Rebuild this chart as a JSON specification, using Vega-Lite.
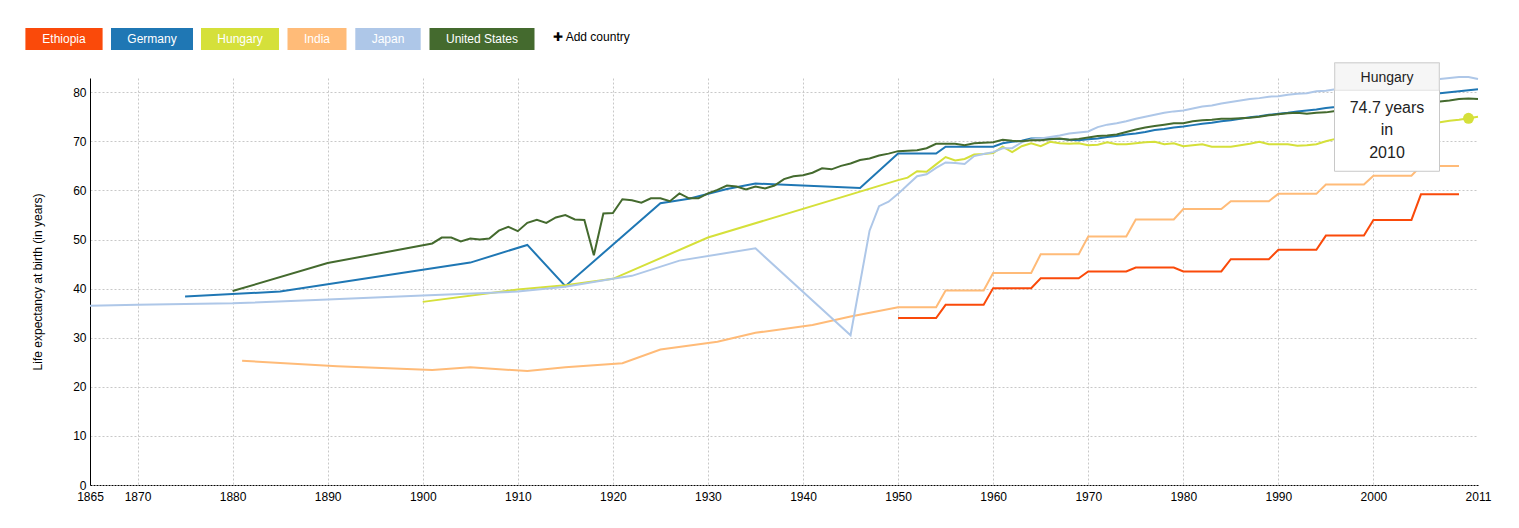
{
  "$schema": "https://vega.github.io/schema/vega-lite/v6.json",
  "width": 1388,
  "height": 407,
  "autosize": {"type": "none"},
  "padding": {"left": 90, "top": 78, "right": 41, "bottom": 43},
  "background": "#ffffff",
  "config": {"view": {"stroke": null}, "font": "Liberation Sans"},
  "data": {"values": [
    {"country":"Ethiopia","year":1950,"life":34.0},{"country":"Ethiopia","year":1951,"life":34.0},{"country":"Ethiopia","year":1952,"life":34.0},{"country":"Ethiopia","year":1953,"life":34.0},{"country":"Ethiopia","year":1954,"life":34.0},
    {"country":"Ethiopia","year":1955,"life":36.7},{"country":"Ethiopia","year":1956,"life":36.7},{"country":"Ethiopia","year":1957,"life":36.7},{"country":"Ethiopia","year":1958,"life":36.7},{"country":"Ethiopia","year":1959,"life":36.7},
    {"country":"Ethiopia","year":1960,"life":40.1},{"country":"Ethiopia","year":1961,"life":40.1},{"country":"Ethiopia","year":1962,"life":40.1},{"country":"Ethiopia","year":1963,"life":40.1},{"country":"Ethiopia","year":1964,"life":40.1},
    {"country":"Ethiopia","year":1965,"life":42.1},{"country":"Ethiopia","year":1966,"life":42.1},{"country":"Ethiopia","year":1967,"life":42.1},{"country":"Ethiopia","year":1968,"life":42.1},{"country":"Ethiopia","year":1969,"life":42.1},
    {"country":"Ethiopia","year":1970,"life":43.5},{"country":"Ethiopia","year":1971,"life":43.5},{"country":"Ethiopia","year":1972,"life":43.5},{"country":"Ethiopia","year":1973,"life":43.5},{"country":"Ethiopia","year":1974,"life":43.5},
    {"country":"Ethiopia","year":1975,"life":44.3},{"country":"Ethiopia","year":1976,"life":44.3},{"country":"Ethiopia","year":1977,"life":44.3},{"country":"Ethiopia","year":1978,"life":44.3},{"country":"Ethiopia","year":1979,"life":44.3},
    {"country":"Ethiopia","year":1980,"life":43.5},{"country":"Ethiopia","year":1981,"life":43.5},{"country":"Ethiopia","year":1982,"life":43.5},{"country":"Ethiopia","year":1983,"life":43.5},{"country":"Ethiopia","year":1984,"life":43.5},
    {"country":"Ethiopia","year":1985,"life":46.0},{"country":"Ethiopia","year":1986,"life":46.0},{"country":"Ethiopia","year":1987,"life":46.0},{"country":"Ethiopia","year":1988,"life":46.0},{"country":"Ethiopia","year":1989,"life":46.0},
    {"country":"Ethiopia","year":1990,"life":47.9},{"country":"Ethiopia","year":1991,"life":47.9},{"country":"Ethiopia","year":1992,"life":47.9},{"country":"Ethiopia","year":1993,"life":47.9},{"country":"Ethiopia","year":1994,"life":47.9},
    {"country":"Ethiopia","year":1995,"life":50.8},{"country":"Ethiopia","year":1996,"life":50.8},{"country":"Ethiopia","year":1997,"life":50.8},{"country":"Ethiopia","year":1998,"life":50.8},{"country":"Ethiopia","year":1999,"life":50.8},
    {"country":"Ethiopia","year":2000,"life":54.0},{"country":"Ethiopia","year":2001,"life":54.0},{"country":"Ethiopia","year":2002,"life":54.0},{"country":"Ethiopia","year":2003,"life":54.0},{"country":"Ethiopia","year":2004,"life":54.0},
    {"country":"Ethiopia","year":2005,"life":59.2},{"country":"Ethiopia","year":2006,"life":59.2},{"country":"Ethiopia","year":2007,"life":59.2},{"country":"Ethiopia","year":2008,"life":59.2},{"country":"Ethiopia","year":2009,"life":59.2},

    {"country":"Germany","year":1875,"life":38.4},{"country":"Germany","year":1885,"life":39.4},{"country":"Germany","year":1905,"life":45.3},{"country":"Germany","year":1911,"life":48.9},{"country":"Germany","year":1915,"life":40.5},
    {"country":"Germany","year":1925,"life":57.4},{"country":"Germany","year":1928,"life":58.3},{"country":"Germany","year":1932,"life":60.3},{"country":"Germany","year":1935,"life":61.4},{"country":"Germany","year":1946,"life":60.5},
    {"country":"Germany","year":1950,"life":67.5},{"country":"Germany","year":1951,"life":67.5},{"country":"Germany","year":1952,"life":67.5},{"country":"Germany","year":1953,"life":67.5},{"country":"Germany","year":1954,"life":67.5},
    {"country":"Germany","year":1955,"life":68.9},{"country":"Germany","year":1956,"life":68.9},{"country":"Germany","year":1957,"life":68.9},{"country":"Germany","year":1958,"life":68.9},{"country":"Germany","year":1959,"life":68.9},
    {"country":"Germany","year":1960,"life":68.9},{"country":"Germany","year":1961,"life":69.6},{"country":"Germany","year":1962,"life":69.9},{"country":"Germany","year":1963,"life":70.1},{"country":"Germany","year":1964,"life":70.6},
    {"country":"Germany","year":1965,"life":70.6},{"country":"Germany","year":1966,"life":70.6},{"country":"Germany","year":1967,"life":70.5},{"country":"Germany","year":1968,"life":70.3},{"country":"Germany","year":1969,"life":70.2},
    {"country":"Germany","year":1970,"life":70.4},{"country":"Germany","year":1971,"life":70.6},{"country":"Germany","year":1972,"life":70.9},{"country":"Germany","year":1973,"life":71.1},{"country":"Germany","year":1974,"life":71.4},
    {"country":"Germany","year":1975,"life":71.6},{"country":"Germany","year":1976,"life":71.9},{"country":"Germany","year":1977,"life":72.3},{"country":"Germany","year":1978,"life":72.5},{"country":"Germany","year":1979,"life":72.8},
    {"country":"Germany","year":1980,"life":73.0},{"country":"Germany","year":1981,"life":73.3},{"country":"Germany","year":1982,"life":73.6},{"country":"Germany","year":1983,"life":73.8},{"country":"Germany","year":1984,"life":74.1},
    {"country":"Germany","year":1985,"life":74.3},{"country":"Germany","year":1986,"life":74.6},{"country":"Germany","year":1987,"life":74.9},{"country":"Germany","year":1988,"life":75.1},{"country":"Germany","year":1989,"life":75.4},
    {"country":"Germany","year":1990,"life":75.6},{"country":"Germany","year":1991,"life":75.8},{"country":"Germany","year":1992,"life":76.1},{"country":"Germany","year":1993,"life":76.3},{"country":"Germany","year":1994,"life":76.5},
    {"country":"Germany","year":1995,"life":76.8},{"country":"Germany","year":1996,"life":77.0},{"country":"Germany","year":1997,"life":77.3},{"country":"Germany","year":1998,"life":77.6},{"country":"Germany","year":1999,"life":77.9},
    {"country":"Germany","year":2000,"life":78.2},{"country":"Germany","year":2001,"life":78.5},{"country":"Germany","year":2002,"life":78.7},{"country":"Germany","year":2003,"life":78.9},{"country":"Germany","year":2004,"life":79.2},
    {"country":"Germany","year":2005,"life":79.4},{"country":"Germany","year":2006,"life":79.6},{"country":"Germany","year":2007,"life":79.8},{"country":"Germany","year":2008,"life":80.0},{"country":"Germany","year":2009,"life":80.2},
    {"country":"Germany","year":2010,"life":80.4},{"country":"Germany","year":2011,"life":80.6},

    {"country":"Hungary","year":1900,"life":37.3},{"country":"Hungary","year":1910,"life":39.8},{"country":"Hungary","year":1915,"life":40.7},{"country":"Hungary","year":1920,"life":42.0},{"country":"Hungary","year":1930,"life":50.4},
    {"country":"Hungary","year":1950,"life":62.1},{"country":"Hungary","year":1951,"life":62.6},{"country":"Hungary","year":1952,"life":63.9},{"country":"Hungary","year":1953,"life":63.8},{"country":"Hungary","year":1954,"life":65.3},
    {"country":"Hungary","year":1955,"life":66.8},{"country":"Hungary","year":1956,"life":66.1},{"country":"Hungary","year":1957,"life":66.4},{"country":"Hungary","year":1958,"life":67.3},{"country":"Hungary","year":1959,"life":67.4},
    {"country":"Hungary","year":1960,"life":67.6},{"country":"Hungary","year":1961,"life":68.9},{"country":"Hungary","year":1962,"life":67.8},{"country":"Hungary","year":1963,"life":69.0},{"country":"Hungary","year":1964,"life":69.6},
    {"country":"Hungary","year":1965,"life":69.0},{"country":"Hungary","year":1966,"life":69.9},{"country":"Hungary","year":1967,"life":69.6},{"country":"Hungary","year":1968,"life":69.5},{"country":"Hungary","year":1969,"life":69.6},
    {"country":"Hungary","year":1970,"life":69.2},{"country":"Hungary","year":1971,"life":69.3},{"country":"Hungary","year":1972,"life":69.8},{"country":"Hungary","year":1973,"life":69.4},{"country":"Hungary","year":1974,"life":69.4},
    {"country":"Hungary","year":1975,"life":69.6},{"country":"Hungary","year":1976,"life":69.8},{"country":"Hungary","year":1977,"life":69.9},{"country":"Hungary","year":1978,"life":69.4},{"country":"Hungary","year":1979,"life":69.6},
    {"country":"Hungary","year":1980,"life":69.0},{"country":"Hungary","year":1981,"life":69.2},{"country":"Hungary","year":1982,"life":69.4},{"country":"Hungary","year":1983,"life":68.9},{"country":"Hungary","year":1984,"life":68.9},
    {"country":"Hungary","year":1985,"life":68.9},{"country":"Hungary","year":1986,"life":69.2},{"country":"Hungary","year":1987,"life":69.5},{"country":"Hungary","year":1988,"life":69.9},{"country":"Hungary","year":1989,"life":69.4},
    {"country":"Hungary","year":1990,"life":69.4},{"country":"Hungary","year":1991,"life":69.4},{"country":"Hungary","year":1992,"life":69.1},{"country":"Hungary","year":1993,"life":69.2},{"country":"Hungary","year":1994,"life":69.4},
    {"country":"Hungary","year":1995,"life":70.0},{"country":"Hungary","year":1996,"life":70.5},{"country":"Hungary","year":1997,"life":70.8},{"country":"Hungary","year":1998,"life":71.0},{"country":"Hungary","year":1999,"life":71.2},
    {"country":"Hungary","year":2000,"life":71.5},{"country":"Hungary","year":2001,"life":72.2},{"country":"Hungary","year":2002,"life":72.5},{"country":"Hungary","year":2003,"life":72.7},{"country":"Hungary","year":2004,"life":73.0},
    {"country":"Hungary","year":2005,"life":73.1},{"country":"Hungary","year":2006,"life":73.5},{"country":"Hungary","year":2007,"life":73.9},{"country":"Hungary","year":2008,"life":74.2},{"country":"Hungary","year":2009,"life":74.4},
    {"country":"Hungary","year":2010,"life":74.7},{"country":"Hungary","year":2011,"life":75.0},

    {"country":"India","year":1881,"life":25.3},{"country":"India","year":1891,"life":24.2},{"country":"India","year":1901,"life":23.4},{"country":"India","year":1905,"life":24.0},{"country":"India","year":1911,"life":23.2},
    {"country":"India","year":1915,"life":24.0},{"country":"India","year":1921,"life":24.8},{"country":"India","year":1925,"life":27.6},{"country":"India","year":1931,"life":29.2},{"country":"India","year":1935,"life":31.0},
    {"country":"India","year":1941,"life":32.6},{"country":"India","year":1945,"life":34.3},
    {"country":"India","year":1950,"life":36.2},{"country":"India","year":1951,"life":36.2},{"country":"India","year":1952,"life":36.2},{"country":"India","year":1953,"life":36.2},{"country":"India","year":1954,"life":36.2},
    {"country":"India","year":1955,"life":39.6},{"country":"India","year":1956,"life":39.6},{"country":"India","year":1957,"life":39.6},{"country":"India","year":1958,"life":39.6},{"country":"India","year":1959,"life":39.6},
    {"country":"India","year":1960,"life":43.2},{"country":"India","year":1961,"life":43.2},{"country":"India","year":1962,"life":43.2},{"country":"India","year":1963,"life":43.2},{"country":"India","year":1964,"life":43.2},
    {"country":"India","year":1965,"life":47.0},{"country":"India","year":1966,"life":47.0},{"country":"India","year":1967,"life":47.0},{"country":"India","year":1968,"life":47.0},{"country":"India","year":1969,"life":47.0},
    {"country":"India","year":1970,"life":50.6},{"country":"India","year":1971,"life":50.6},{"country":"India","year":1972,"life":50.6},{"country":"India","year":1973,"life":50.6},{"country":"India","year":1974,"life":50.6},
    {"country":"India","year":1975,"life":54.1},{"country":"India","year":1976,"life":54.1},{"country":"India","year":1977,"life":54.1},{"country":"India","year":1978,"life":54.1},{"country":"India","year":1979,"life":54.1},
    {"country":"India","year":1980,"life":56.2},{"country":"India","year":1981,"life":56.2},{"country":"India","year":1982,"life":56.2},{"country":"India","year":1983,"life":56.2},{"country":"India","year":1984,"life":56.2},
    {"country":"India","year":1985,"life":57.8},{"country":"India","year":1986,"life":57.8},{"country":"India","year":1987,"life":57.8},{"country":"India","year":1988,"life":57.8},{"country":"India","year":1989,"life":57.8},
    {"country":"India","year":1990,"life":59.3},{"country":"India","year":1991,"life":59.3},{"country":"India","year":1992,"life":59.3},{"country":"India","year":1993,"life":59.3},{"country":"India","year":1994,"life":59.3},
    {"country":"India","year":1995,"life":61.2},{"country":"India","year":1996,"life":61.2},{"country":"India","year":1997,"life":61.2},{"country":"India","year":1998,"life":61.2},{"country":"India","year":1999,"life":61.2},
    {"country":"India","year":2000,"life":63.0},{"country":"India","year":2001,"life":63.0},{"country":"India","year":2002,"life":63.0},{"country":"India","year":2003,"life":63.0},{"country":"India","year":2004,"life":63.0},
    {"country":"India","year":2005,"life":65.0},{"country":"India","year":2006,"life":65.0},{"country":"India","year":2007,"life":65.0},{"country":"India","year":2008,"life":65.0},{"country":"India","year":2009,"life":65.0},

    {"country":"Japan","year":1865,"life":36.5},{"country":"Japan","year":1870,"life":36.7},{"country":"Japan","year":1880,"life":37.0},{"country":"Japan","year":1890,"life":37.8},{"country":"Japan","year":1900,"life":38.6},
    {"country":"Japan","year":1910,"life":39.4},{"country":"Japan","year":1915,"life":40.4},{"country":"Japan","year":1920,"life":42.0},{"country":"Japan","year":1922,"life":42.6},{"country":"Japan","year":1927,"life":45.7},
    {"country":"Japan","year":1935,"life":48.2},{"country":"Japan","year":1945,"life":30.5},{"country":"Japan","year":1947,"life":51.8},{"country":"Japan","year":1948,"life":56.8},{"country":"Japan","year":1949,"life":57.7},
    {"country":"Japan","year":1950,"life":59.3},{"country":"Japan","year":1951,"life":61.1},{"country":"Japan","year":1952,"life":62.9},{"country":"Japan","year":1953,"life":63.3},{"country":"Japan","year":1954,"life":64.6},
    {"country":"Japan","year":1955,"life":65.7},{"country":"Japan","year":1956,"life":65.6},{"country":"Japan","year":1957,"life":65.4},{"country":"Japan","year":1958,"life":67.0},{"country":"Japan","year":1959,"life":67.4},
    {"country":"Japan","year":1960,"life":67.8},{"country":"Japan","year":1961,"life":68.6},{"country":"Japan","year":1962,"life":68.6},{"country":"Japan","year":1963,"life":69.8},{"country":"Japan","year":1964,"life":70.4},
    {"country":"Japan","year":1965,"life":70.6},{"country":"Japan","year":1966,"life":70.9},{"country":"Japan","year":1967,"life":71.2},{"country":"Japan","year":1968,"life":71.6},{"country":"Japan","year":1969,"life":71.8},
    {"country":"Japan","year":1970,"life":72.0},{"country":"Japan","year":1971,"life":72.9},{"country":"Japan","year":1972,"life":73.4},{"country":"Japan","year":1973,"life":73.7},{"country":"Japan","year":1974,"life":74.1},
    {"country":"Japan","year":1975,"life":74.6},{"country":"Japan","year":1976,"life":75.0},{"country":"Japan","year":1977,"life":75.4},{"country":"Japan","year":1978,"life":75.8},{"country":"Japan","year":1979,"life":76.1},
    {"country":"Japan","year":1980,"life":76.3},{"country":"Japan","year":1981,"life":76.7},{"country":"Japan","year":1982,"life":77.1},{"country":"Japan","year":1983,"life":77.3},{"country":"Japan","year":1984,"life":77.7},
    {"country":"Japan","year":1985,"life":78.0},{"country":"Japan","year":1986,"life":78.3},{"country":"Japan","year":1987,"life":78.6},{"country":"Japan","year":1988,"life":78.8},{"country":"Japan","year":1989,"life":79.1},
    {"country":"Japan","year":1990,"life":79.2},{"country":"Japan","year":1991,"life":79.5},{"country":"Japan","year":1992,"life":79.7},{"country":"Japan","year":1993,"life":79.8},{"country":"Japan","year":1994,"life":80.2},
    {"country":"Japan","year":1995,"life":80.3},{"country":"Japan","year":1996,"life":80.6},{"country":"Japan","year":1997,"life":80.8},{"country":"Japan","year":1998,"life":81.0},{"country":"Japan","year":1999,"life":81.1},
    {"country":"Japan","year":2000,"life":81.4},{"country":"Japan","year":2001,"life":81.6},{"country":"Japan","year":2002,"life":81.8},{"country":"Japan","year":2003,"life":82.0},{"country":"Japan","year":2004,"life":82.2},
    {"country":"Japan","year":2005,"life":82.3},{"country":"Japan","year":2006,"life":82.5},{"country":"Japan","year":2007,"life":82.7},{"country":"Japan","year":2008,"life":82.9},{"country":"Japan","year":2009,"life":83.1},
    {"country":"Japan","year":2010,"life":83.1},{"country":"Japan","year":2011,"life":82.7},

    {"country":"United States","year":1880,"life":39.5},{"country":"United States","year":1890,"life":45.2},{"country":"United States","year":1901,"life":49.2},{"country":"United States","year":1902,"life":50.4},{"country":"United States","year":1903,"life":50.4},
    {"country":"United States","year":1904,"life":49.6},{"country":"United States","year":1905,"life":50.2},{"country":"United States","year":1906,"life":50.0},{"country":"United States","year":1907,"life":50.2},{"country":"United States","year":1908,"life":51.8},
    {"country":"United States","year":1909,"life":52.6},{"country":"United States","year":1910,"life":51.7},{"country":"United States","year":1911,"life":53.4},{"country":"United States","year":1912,"life":54.0},{"country":"United States","year":1913,"life":53.4},
    {"country":"United States","year":1914,"life":54.5},{"country":"United States","year":1915,"life":55.0},{"country":"United States","year":1916,"life":54.1},{"country":"United States","year":1917,"life":54.0},{"country":"United States","year":1918,"life":46.8},
    {"country":"United States","year":1919,"life":55.3},{"country":"United States","year":1920,"life":55.4},{"country":"United States","year":1921,"life":58.2},{"country":"United States","year":1922,"life":58.0},{"country":"United States","year":1923,"life":57.5},
    {"country":"United States","year":1924,"life":58.4},{"country":"United States","year":1925,"life":58.4},{"country":"United States","year":1926,"life":57.8},{"country":"United States","year":1927,"life":59.4},{"country":"United States","year":1928,"life":58.4},
    {"country":"United States","year":1929,"life":58.4},{"country":"United States","year":1930,"life":59.4},{"country":"United States","year":1931,"life":60.1},{"country":"United States","year":1932,"life":61.0},{"country":"United States","year":1933,"life":60.8},
    {"country":"United States","year":1934,"life":60.2},{"country":"United States","year":1935,"life":60.8},{"country":"United States","year":1936,"life":60.4},{"country":"United States","year":1937,"life":61.0},{"country":"United States","year":1938,"life":62.3},
    {"country":"United States","year":1939,"life":62.9},{"country":"United States","year":1940,"life":63.1},{"country":"United States","year":1941,"life":63.6},{"country":"United States","year":1942,"life":64.5},{"country":"United States","year":1943,"life":64.3},
    {"country":"United States","year":1944,"life":65.0},{"country":"United States","year":1945,"life":65.5},{"country":"United States","year":1946,"life":66.2},{"country":"United States","year":1947,"life":66.5},{"country":"United States","year":1948,"life":67.1},
    {"country":"United States","year":1949,"life":67.5},{"country":"United States","year":1950,"life":68.0},{"country":"United States","year":1951,"life":68.1},{"country":"United States","year":1952,"life":68.2},{"country":"United States","year":1953,"life":68.6},
    {"country":"United States","year":1954,"life":69.5},{"country":"United States","year":1955,"life":69.5},{"country":"United States","year":1956,"life":69.5},{"country":"United States","year":1957,"life":69.2},{"country":"United States","year":1958,"life":69.6},
    {"country":"United States","year":1959,"life":69.7},{"country":"United States","year":1960,"life":69.8},{"country":"United States","year":1961,"life":70.3},{"country":"United States","year":1962,"life":70.1},{"country":"United States","year":1963,"life":70.0},
    {"country":"United States","year":1964,"life":70.2},{"country":"United States","year":1965,"life":70.2},{"country":"United States","year":1966,"life":70.4},{"country":"United States","year":1967,"life":70.6},{"country":"United States","year":1968,"life":70.3},
    {"country":"United States","year":1969,"life":70.5},{"country":"United States","year":1970,"life":70.8},{"country":"United States","year":1971,"life":71.1},{"country":"United States","year":1972,"life":71.2},{"country":"United States","year":1973,"life":71.4},
    {"country":"United States","year":1974,"life":71.9},{"country":"United States","year":1975,"life":72.4},{"country":"United States","year":1976,"life":72.8},{"country":"United States","year":1977,"life":73.1},{"country":"United States","year":1978,"life":73.4},
    {"country":"United States","year":1979,"life":73.7},{"country":"United States","year":1980,"life":73.7},{"country":"United States","year":1981,"life":74.1},{"country":"United States","year":1982,"life":74.3},{"country":"United States","year":1983,"life":74.4},
    {"country":"United States","year":1984,"life":74.6},{"country":"United States","year":1985,"life":74.6},{"country":"United States","year":1986,"life":74.7},{"country":"United States","year":1987,"life":74.8},{"country":"United States","year":1988,"life":75.0},
    {"country":"United States","year":1989,"life":75.3},{"country":"United States","year":1990,"life":75.5},{"country":"United States","year":1991,"life":75.7},{"country":"United States","year":1992,"life":75.8},{"country":"United States","year":1993,"life":75.6},
    {"country":"United States","year":1994,"life":75.8},{"country":"United States","year":1995,"life":75.9},{"country":"United States","year":1996,"life":76.2},{"country":"United States","year":1997,"life":76.5},{"country":"United States","year":1998,"life":76.7},
    {"country":"United States","year":1999,"life":76.8},{"country":"United States","year":2000,"life":76.9},{"country":"United States","year":2001,"life":77.0},{"country":"United States","year":2002,"life":77.1},{"country":"United States","year":2003,"life":77.3},
    {"country":"United States","year":2004,"life":77.6},{"country":"United States","year":2005,"life":77.7},{"country":"United States","year":2006,"life":77.9},{"country":"United States","year":2007,"life":78.1},{"country":"United States","year":2008,"life":78.3},
    {"country":"United States","year":2009,"life":78.6},{"country":"United States","year":2010,"life":78.7},{"country":"United States","year":2011,"life":78.6}
  ]},
  "encoding": {
    "x": {"field": "year", "type": "quantitative",
      "scale": {"domain": [1865, 2011], "nice": false, "zero": false},
      "axis": {"title": null, "values": [1865,1870,1880,1890,1900,1910,1920,1930,1940,1950,1960,1970,1980,1990,2000,2011],
        "format": "d", "ticks": false, "labelPadding": 6, "labelFontSize": 12, "labelColor": "#000", "labelFont": "Liberation Sans",
        "labelOverlap": false, "labelFlush": false,
        "domainColor": "#000", "domainDash": [2, 1], "domainWidth": 1,
        "grid": true, "gridDash": [2, 2], "gridWidth": 1,
        "gridColor": {"condition": {"test": "datum.value == 1865 || datum.value == 2011", "value": "transparent"}, "value": "#c8c8c8"}}},
    "y": {"field": "life", "type": "quantitative",
      "scale": {"domain": [0, 82.9], "nice": false},
      "axis": {"title": "Life expectancy at birth (in years)", "values": [0,10,20,30,40,50,60,70,80],
        "ticks": false, "labelPadding": 4, "labelFontSize": 12, "labelColor": "#000", "labelFont": "Liberation Sans",
        "domainColor": "#000", "domainWidth": 1,
        "titleFont": "Liberation Sans", "titleFontSize": 12, "titleFontWeight": "normal", "titleColor": "#000", "titlePadding": 28,
        "grid": true, "gridDash": [2, 2], "gridWidth": 1,
        "gridColor": {"condition": {"test": "datum.value == 0", "value": "transparent"}, "value": "#c8c8c8"}}}
  },
  "layer": [
    {
      "mark": {"type": "line", "strokeWidth": 2},
      "encoding": {
        "color": {"field": "country", "type": "nominal",
          "scale": {"domain": ["Ethiopia","Germany","Hungary","India","Japan","United States"],
                    "range": ["#fa4a0a","#1f77b4","#d5e03a","#ffbb78","#aec7e8","#446a2e"]},
          "legend": {
            "orient": "none", "direction": "horizontal", "legendX": -32, "legendY": -45,
            "padding": 0, "columnPadding": 8,
            "title": "✚ Add country", "titleOrient": "right", "titlePadding": 18,
            "titleFont": "Liberation Sans", "titleFontSize": 12, "titleFontWeight": "normal", "titleColor": "#000",
            "symbolSize": 4, "symbolStrokeWidth": 0,
            "labelColor": "#ffffff", "labelFont": "Liberation Sans", "labelFontSize": 12, "labelAlign": "center", "labelOffset": -6, "labelLimit": 200,
            "encode": {
              "title": {"update": {"dy": {"value": -5}}},
              "symbols": {"update": {
                "shape": {"signal": "datum.value == 'Ethiopia' ? 'M-38.6,-11H38.6V11H-38.6Z' : datum.value == 'Germany' ? 'M-41,-11H41V11H-41Z' : datum.value == 'Hungary' ? 'M-39,-11H39V11H-39Z' : datum.value == 'India' ? 'M-29.5,-11H29.5V11H-29.5Z' : datum.value == 'Japan' ? 'M-32.7,-11H32.7V11H-32.7Z' : 'M-52.5,-11H52.5V11H-52.5Z'"},
                "fill": {"scale": "color", "field": "value"},
                "fillOpacity": {"value": 1},
                "opacity": {"value": 1},
                "strokeWidth": {"value": 0}
              }}
            }
          }}
      }
    },
    {
      "transform": [{"filter": "datum.country == 'Hungary' && datum.year == 2010"}],
      "mark": {"type": "point", "filled": true, "size": 120, "color": "#d5e03a", "opacity": 1}
    },
    {
      "transform": [{"filter": "datum.country == 'Hungary' && datum.year == 2010"}],
      "mark": {"type": "point", "filled": true, "size": 4, "shape": "M-134,-55.5H-29V53H-134Z", "fill": "#ffffff", "stroke": "#c8c8c8", "strokeWidth": 1, "opacity": 1, "fillOpacity": 1}
    },
    {
      "transform": [{"filter": "datum.country == 'Hungary' && datum.year == 2010"}],
      "mark": {"type": "point", "filled": true, "size": 4, "shape": "M-133.5,-55H-29.5V-28H-133.5Z", "fill": "#f6f6f6", "stroke": "#e2e2e2", "strokeWidth": 1, "opacity": 1, "fillOpacity": 1}
    },
    {
      "transform": [{"filter": "datum.country == 'Hungary' && datum.year == 2010"}],
      "mark": {"type": "text", "dx": -81.5, "dy": -36.5, "align": "center", "baseline": "alphabetic", "fontSize": 14, "font": "Liberation Sans", "color": "#222222"},
      "encoding": {"text": {"field": "country", "type": "nominal"}}
    },
    {
      "transform": [
        {"filter": "datum.country == 'Hungary' && datum.year == 2010"},
        {"calculate": "[format(datum.life, '.1f') + ' years', 'in', '' + datum.year]", "as": "tip"}
      ],
      "mark": {"type": "text", "dx": -81.5, "dy": -5.7, "align": "center", "baseline": "alphabetic", "fontSize": 16, "lineHeight": 22.7, "font": "Liberation Sans", "color": "#222222"},
      "encoding": {"text": {"field": "tip", "type": "nominal"}}
    }
  ]
}
